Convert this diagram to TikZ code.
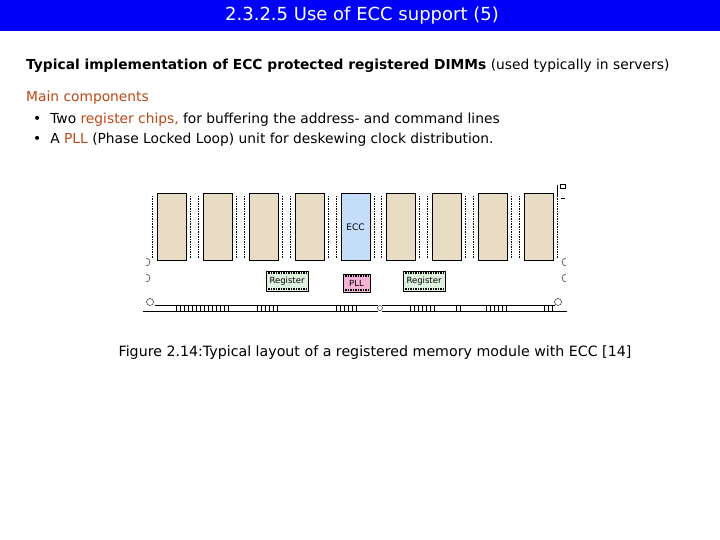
\documentclass[tikz,border=0pt]{standalone}
\usepackage{fontspec}
\setmainfont{DejaVu Sans}
\definecolor{tb}{RGB}{0,0,250}
\definecolor{hl}{RGB}{190,70,20}
\definecolor{chip}{RGB}{232,220,196}
\definecolor{eccc}{RGB}{196,222,250}
\definecolor{regc}{RGB}{222,240,222}
\definecolor{pllc}{RGB}{245,180,215}
\begin{document}
\begin{tikzpicture}[x=1pt,y=-1pt,
  txt/.style={anchor=west,inner sep=0,font=\fontsize{13.8}{16}\selectfont},
  mem/.style={draw,line width=1pt,fill=chip,minimum width=29pt,minimum height=66pt,inner sep=0},
  sm/.style={draw,fill=#1,inner sep=0,font=\fontsize{8.5}{10}\selectfont}]
\useasboundingbox (0,0) rectangle (720,540);
\fill[tb] (0,0) rectangle (720,31);
\node[text=white,font=\fontsize{18}{20}\selectfont] (title) at (362,16) {2.3.2.5 Use of ECC support (5)};
\node[txt] (l1) at (26,66) {\textbf{Typical implementation of ECC protected registered DIMMs} (used typically in servers)};
\node[txt,text=hl] (l2) at (26,98) {Main components};
\node[txt] (b1) at (33,120) {•\hspace{9pt}Two \textcolor{hl}{register chips,} for buffering the address- and command lines};
\node[txt] (b2) at (33,140) {•\hspace{9pt}A \textcolor{hl}{PLL} (Phase Locked Loop) unit for deskewing clock distribution.};
% chips
\foreach \i/\x in {1/171.5,2/217.5,3/263.5,4/309.5,6/400.5,7/446.5,8/492.5,9/538.5}{
  \node[mem] (c\i) at (\x,227) {};
  \draw[densely dotted,line width=1.5pt] (\x-19,196)--(\x-19,258) (\x+19,196)--(\x+19,258);
}
\node[mem,fill=eccc,font=\fontsize{9}{10}\selectfont] (c5) at (355.5,227) {ECC};
\draw[densely dotted,line width=1.5pt] (336.5,196)--(336.5,258) (374.5,196)--(374.5,258);
\node[sm=regc,minimum width=42pt,minimum height=20pt] (r1) at (287,281) {Register};
\node[sm=pllc,minimum width=27pt,minimum height=18pt] (pll) at (356.5,283) {PLL};
\node[sm=regc,minimum width=42pt,minimum height=20pt] (r2) at (424,281) {Register};
\foreach \n in {r1,r2,pll}{
  \draw[densely dotted,line width=1.5pt] ([yshift=-2pt]\n.north west)--([yshift=-2pt]\n.north east)
    ([yshift=2pt]\n.south west)--([yshift=2pt]\n.south east);}
% board edge
\draw (143,311)--(378,311) (382,311)--(567,311);
\draw (155,305)--(378,305) (382,305)--(555,305);
\foreach \x in {176,180,...,228, 257,261,...,277, 336,340,...,356, 410,414,...,434, 456,460, 486,490,...,506, 544,548,552}
  \draw (\x,305)--(\x,311);
\draw (150,302) circle (3.5) (558,302) circle (3.5);
\draw (380,308) circle (2.5);
\draw (146,266) arc (90:-90:4) (146,282) arc (90:-90:4);
\draw (566,266) arc (90:270:4) (566,282) arc (90:270:4);
\draw (557,185)--(557,196) (560,184) rectangle (565,188) (561,198)--(565,198);
\node[font=\fontsize{14.2}{16}\selectfont] (cap) at (375,353) {Figure 2.14:Typical layout of a registered memory module with ECC [14]};
\end{tikzpicture}
\end{document}
